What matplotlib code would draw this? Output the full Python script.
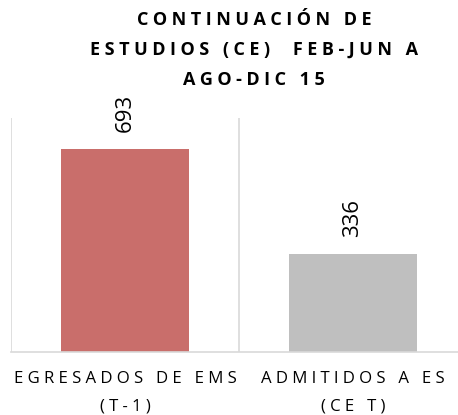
import matplotlib
matplotlib.use("Agg")
import matplotlib.pyplot as plt

categories = ["EGRESADOS DE EMS\n(T-1)", "ADMITIDOS A ES\n(CE T)"]
values = [693, 336]
colors = ["#c96e6b", "#bfbfbf"]
title = "CONTINUACIÓN DE\nESTUDIOS (CE)  FEB-JUN A\nAGO-DIC 15"

plt.rcParams['font.family'] = ['Open Sans', 'DejaVu Sans']


def spaced(s, sep="\u2005"):
    # emulate the wide letter spacing of the original chart
    return "\n".join(sep.join(line) for line in s.split("\n"))


W, H = 458, 415
fig = plt.figure(figsize=(W / 100, H / 100), dpi=100)
ax = fig.add_axes([11 / W, (H - 352) / H, 456 / W, 234 / H])

x = list(range(len(values)))
bars = ax.bar(x, values, width=0.56, color=colors, zorder=2)
ax.set_xlim(-0.5, len(values) - 0.5)
ax.set_ylim(0, 799)

for xv in [-0.5, 0.5, 1.5]:
    ax.axvline(xv, color="#d9d9d9", lw=1.2, zorder=1)

for s in ["top", "right", "left"]:
    ax.spines[s].set_visible(False)
ax.spines["bottom"].set_color("#d9d9d9")
ax.spines["bottom"].set_linewidth(1.2)
ax.set_yticks([])
ax.set_xticks(x)
ax.set_xticklabels([spaced(c) for c in categories], fontsize=12.1,
                   color="#000000", linespacing=1.95)
ax.tick_params(axis="x", length=0, pad=14)

for xi, v in zip(x, values):
    ax.annotate(f"{v}", (xi, v), xytext=(0, 12), textcoords="offset points",
                rotation=90, ha="center", va="bottom", fontsize=16)

fig.text(254 / W, 1 - 50 / H, spaced(title), ha="center", va="center",
         fontsize=13, fontweight="bold", linespacing=1.85)

fig.savefig("out.png", dpi=100)
